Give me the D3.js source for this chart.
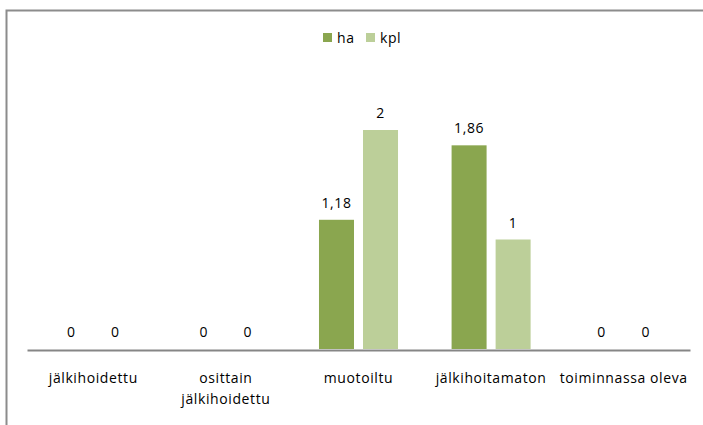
<!DOCTYPE html>
<html>
<head>
<meta charset="utf-8">
<script src="https://cdn.jsdelivr.net/npm/d3@7"></script>
<style>
  body { margin: 0; background: #fff; }
  svg { display: block; font-family: "Open Sans", Lato, sans-serif; }
  .lbl { font-size: 14px; fill: #000; letter-spacing: 0.6px; }
</style>
</head>
<body>
<svg id="chart" width="703" height="425"></svg>
<script>
// data
const categories = ["jälkihoidettu", "osittain jälkihoidettu", "muotoiltu", "jälkihoitamaton", "toiminnassa oleva"]
const seriesNames = ["ha", "kpl"]
const haValues = [0, 0, 1.18, 1.86, 0]
const kplValues = [0, 0, 2, 1, 0]
const colors = ["#8aa64f", "#bccf99"]

const svg = d3.select("#chart")
const W = 703, H = 425

const plot = { left: 27, right: 690, top: 75.25, bottom: 349 }

const rows = categories.map((c, i) => ({ cat: c, values: [haValues[i], kplValues[i]] }))

// outer frame (chart area border)
svg.append("path")
  .attr("d", "M6.5," + H + "V10.5H" + W)
  .attr("fill", "none")
  .attr("stroke", "#8c8c8c")
  .attr("stroke-width", 2)

const x0 = d3.scaleBand()
  .domain(categories)
  .range([plot.left, plot.right])
  .paddingInner(0.404)
  .paddingOuter(0.202)

const x1 = d3.scaleBand()
  .domain(seriesNames)
  .range([0, x0.bandwidth()])
  .paddingInner(0.205)

const y = d3.scaleLinear()
  .domain([0, 2.5])
  .range([plot.bottom, plot.top])

const fmt = v => String(v).replace(".", ",")

// bars
const groups = svg.append("g").selectAll("g")
  .data(rows)
  .join("g")
  .attr("transform", d => "translate(" + x0(d.cat) + ",0)")

groups.selectAll("rect")
  .data(d => d.values.map((v, k) => ({ key: seriesNames[k], v: v, k: k })))
  .join("rect")
  .attr("x", d => x1(d.key))
  .attr("width", x1.bandwidth())
  .attr("y", d => y(d.v))
  .attr("height", d => y(0) - y(d.v))
  .attr("fill", d => colors[d.k])

groups.selectAll("text")
  .data(d => d.values.map((v, k) => ({ key: seriesNames[k], v: v })))
  .join("text")
  .attr("class", "lbl")
  .attr("x", d => x1(d.key) + x1.bandwidth() / 2)
  .attr("y", d => y(d.v) - 12)
  .attr("text-anchor", "middle")
  .text(d => fmt(d.v))

// x axis
const xAxis = svg.append("g")
  .attr("transform", "translate(0," + (plot.bottom + 1) + ")")
  .call(d3.axisBottom(x0).tickSize(0).tickSizeOuter(0).tickFormat(""))

xAxis.select(".domain")
  .attr("stroke", "#868686")
  .attr("stroke-width", 2.2)

// category labels, wrapped to band step
const catText = svg.append("g").selectAll("text")
  .data(categories)
  .join("text")
  .attr("class", "lbl")
  .attr("text-anchor", "middle")
  .attr("x", d => x0(d) + x0.bandwidth() / 2)
  .attr("y", plot.bottom + 34)

catText.each(function(d) {
  const t = d3.select(this)
  const words = d.split(" ")
  let line = []
  let tspan = t.append("tspan").attr("x", t.attr("x")).attr("dy", 0)
  words.forEach(w => {
    line.push(w)
    tspan.text(line.join(" "))
    if (tspan.node().getComputedTextLength() > x0.step() && line.length > 1) {
      line.pop()
      tspan.text(line.join(" "))
      line = [w]
      tspan = t.append("tspan").attr("x", t.attr("x")).attr("dy", 21).text(w)
    }
  })
})

// legend
const legend = svg.append("g").attr("transform", "translate(323,33)")
const legendX = [0, 43]
seriesNames.forEach((s, i) => {
  const g = legend.append("g").attr("transform", "translate(" + legendX[i] + ",0)")
  g.append("rect").attr("width", 9).attr("height", 9).attr("fill", colors[i])
  g.append("text").attr("class", "lbl").attr("x", 14).attr("y", 10).text(s)
})
</script>
</body>
</html>
